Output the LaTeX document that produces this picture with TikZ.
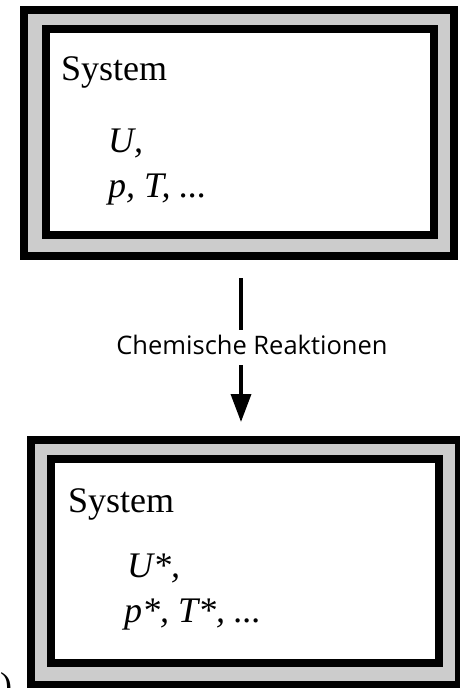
\documentclass[tikz,border=0pt]{standalone}
\usepackage{fontspec}
\setmainfont{Liberation Serif}
\newfontfamily\labelfont{Open Sans}
\usetikzlibrary{arrows.meta}
\definecolor{bandgray}{RGB}{204,204,204}
\tikzset{
  outerbox/.style={draw=black, fill=bandgray, line width=8pt, rectangle, inner sep=0pt},
  innerbox/.style={draw=black, fill=white, line width=8pt, rectangle, inner sep=0pt},
  systext/.style={anchor=base west, inner sep=0pt, font=\fontsize{36}{43}\selectfont},
  vartext/.style={anchor=base west, inner sep=0pt, font=\itshape\fontsize{36}{43}\selectfont},
  reactlabel/.style={anchor=base, inner sep=0pt, font=\labelfont\fontsize{25.5}{30}\selectfont},
  conn/.style={line width=3.5pt, draw=black},
}
\begin{document}
\begin{tikzpicture}[x=1pt, y=-1pt]
\useasboundingbox (0,0) rectangle (460,688);
% top system
\node[outerbox, minimum width=430pt, minimum height=246pt] (topout) at (238.5,133) {};
\node[innerbox, minimum width=388.5pt, minimum height=206pt] (topin) at (239.75,132) {};
\node[systext] (topsys) at (61,80) {System};
\node[vartext] (topu) at (108,152) {U,};
\node[vartext] (toppt) at (108,197) {p, T, ...};
% reaction arrow
\coordinate (a1) at (241,278);
\coordinate (a2) at (241,330);
\coordinate (a3) at (241,365);
\coordinate (a4) at (241,422);
\node[reactlabel] (lbl) at (252,354) {Chemische Reaktionen};
\draw[conn] (a1) -- (a2);
\draw[conn, -{Triangle[width=20pt, length=28pt]}] (a3) -- (a4);
% bottom system
\node[outerbox, minimum width=428pt, minimum height=245pt] (botout) at (245,562.5) {};
\node[innerbox, minimum width=388pt, minimum height=204.5pt] (botin) at (245,560.75) {};
\node[systext] (botsys) at (68,512) {System};
\node[vartext] (botu) at (127,577) {U*,};
\node[vartext] (botpt) at (124,622) {p*, T*, ...};
% clipped glyph at lower left
\node[systext] (corner) at (0,697) {)};
\end{tikzpicture}
\end{document}
